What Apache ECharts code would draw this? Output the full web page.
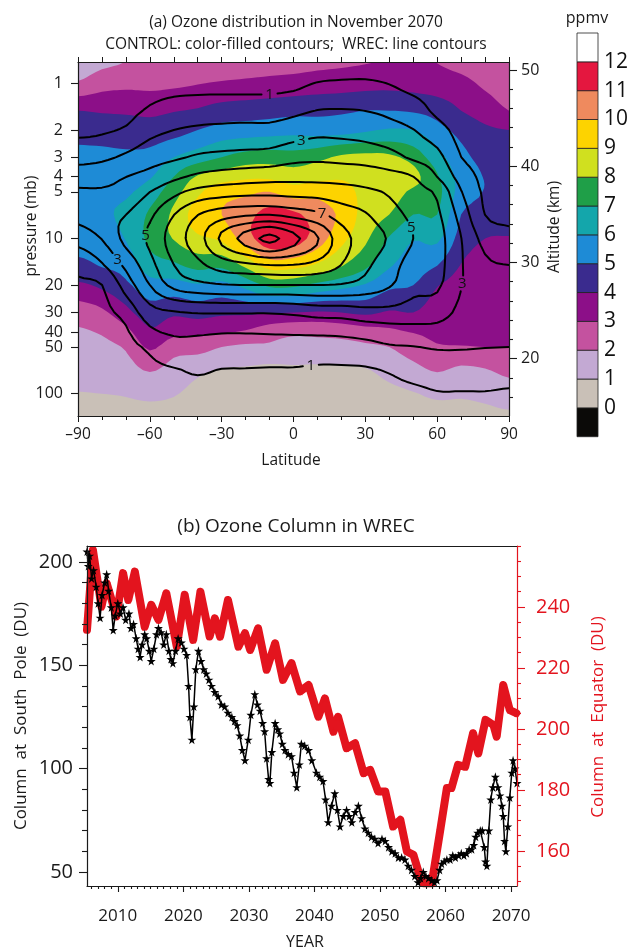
<!DOCTYPE html>
<html>
<head>
<meta charset="utf-8">
<title>Ozone distribution and ozone column</title>
<script src="https://cdn.jsdelivr.net/npm/echarts@6.0.0/dist/echarts.min.js"></script>
<style>
  html, body { margin: 0; padding: 0; background: #ffffff; }
  #chart { width: 627px; height: 950px; }
</style>
</head>
<body>
<div id="chart"></div>
<script>
// ---------- Panel (a): ozone mixing ratio (ppmv), November 2070 ----------
const latitudes = [-90, -80, -70, -60, -50, -40, -30, -20, -10, 0, 10, 20, 30, 40, 50, 60, 70, 80, 90];
const pressureLevels = [0.7, 1, 1.5, 2, 3, 4, 5, 7, 10, 15, 20, 30, 40, 50, 70, 100, 140];

// CONTROL run: one row per latitude, one value per pressure level (top to bottom)
const controlOzone = [
  [1.5, 2.1, 4.0, 4.6, 5.3, 5.6, 5.75, 5.7, 5.4, 4.75, 3.8, 2.45, 1.9, 1.7, 1.35, 0.97, 0.75],
  [1.7, 2.6, 3.9, 4.5, 5.3, 5.6, 5.85, 5.85, 5.5, 5.05, 4.2, 2.8, 2.1, 1.8, 1.5, 1.0, 0.75],
  [1.95, 2.75, 3.85, 4.45, 5.2, 5.55, 5.85, 6.25, 6.05, 5.35, 4.8, 3.7, 2.7, 2.1, 1.6, 1.05, 0.8],
  [2.3, 2.75, 3.75, 4.45, 5.3, 5.9, 6.5, 7.15, 7.25, 6.5, 5.6, 4.55, 3.85, 3.15, 2.1, 1.2, 0.75],
  [2.2, 2.8, 3.95, 4.6, 6.0, 7.0, 7.6, 8.2, 8.05, 6.8, 5.6, 4.2, 3.3, 2.4, 1.6, 1.05, 0.8],
  [2.2, 2.95, 4.1, 5.0, 6.5, 8.1, 8.8, 9.5, 8.8, 7.3, 5.9, 4.4, 3.3, 2.4, 1.2, 0.8, 0.7],
  [2.3, 3.1, 4.4, 5.4, 7.0, 8.5, 9.6, 10.0, 9.2, 7.2, 5.7, 4.2, 3.1, 2.0, 0.95, 0.7, 0.6],
  [2.4, 3.2, 4.5, 5.5, 7.4, 8.8, 9.8, 10.6, 10.5, 8.2, 6.3, 4.2, 2.9, 1.8, 0.9, 0.6, 0.5],
  [2.5, 3.3, 4.6, 5.6, 7.5, 8.8, 10.0, 11.4, 11.7, 9.4, 7.2, 4.1, 2.5, 1.8, 0.8, 0.6, 0.5],
  [2.55, 3.4, 4.7, 5.7, 7.4, 8.5, 9.5, 11.2, 11.5, 9.3, 7.2, 4.0, 2.3, 1.5, 0.9, 0.6, 0.5],
  [2.7, 3.5, 4.75, 5.6, 7.7, 8.7, 9.7, 10.5, 10.5, 8.8, 6.7, 3.9, 2.3, 1.6, 0.85, 0.6, 0.5],
  [2.8, 3.55, 4.85, 5.6, 8.2, 8.9, 9.3, 9.8, 9.3, 8.05, 6.3, 4.0, 2.4, 1.65, 0.85, 0.6, 0.5],
  [2.9, 3.65, 5.0, 5.85, 8.3, 8.7, 8.8, 8.6, 8.2, 7.2, 5.9, 4.2, 2.6, 1.8, 0.95, 0.65, 0.55],
  [3.0, 3.7, 5.0, 6.1, 8.2, 8.6, 8.5, 8.0, 6.9, 6.1, 5.2, 3.9, 2.8, 2.0, 1.3, 0.8, 0.65],
  [3.05, 3.6, 4.9, 6.0, 7.6, 8.3, 7.8, 7.0, 6.05, 5.55, 5.0, 4.0, 3.05, 2.5, 1.7, 0.95, 0.75],
  [2.95, 3.45, 4.6, 5.35, 6.4, 7.1, 7.3, 7.0, 6.2, 5.0, 4.05, 3.5, 3.2, 2.9, 2.1, 1.15, 0.8],
  [2.7, 3.25, 4.0, 4.7, 5.3, 5.6, 5.6, 5.0, 4.6, 3.95, 3.6, 3.35, 3.15, 2.95, 1.8, 1.1, 0.8],
  [2.55, 2.85, 3.5, 4.2, 4.7, 4.95, 4.95, 4.6, 4.0, 3.5, 3.2, 3.3, 3.2, 3.0, 1.95, 1.2, 0.85],
  [2.4, 2.6, 3.0, 4.0, 4.4, 4.6, 4.6, 4.35, 3.95, 3.3, 3.0, 3.25, 3.15, 3.0, 2.3, 1.4, 0.9]
];

// WREC run on the same grid
const wrecOzone = [
  [0.25, 0.4, 0.65, 0.8, 1.67, 2.5, 3.13, 3.3, 2.35, 1.25, 0.9, 0.8, 0.7, 0.65, 0.6, 0.55, 0.5],
  [0.25, 0.4, 0.7, 0.88, 1.81, 2.59, 3.15, 3.73, 3.04, 1.87, 0.99, 0.8, 0.7, 0.65, 0.6, 0.55, 0.5],
  [0.25, 0.45, 0.75, 1.12, 2.17, 2.99, 3.37, 3.99, 4.29, 3.22, 2.41, 1.33, 0.9, 0.8, 0.7, 0.6, 0.5],
  [0.3, 0.6, 1.11, 1.72, 2.59, 3.3, 3.99, 4.8, 5.19, 4.64, 3.99, 2.6, 1.79, 1.13, 0.85, 0.7, 0.55],
  [0.3, 0.65, 1.39, 2.0, 2.85, 3.77, 4.72, 5.97, 6.49, 5.97, 5.28, 2.9, 2.16, 1.62, 0.95, 0.75, 0.6],
  [0.3, 0.65, 1.52, 2.17, 3.12, 4.19, 5.32, 6.97, 7.56, 6.71, 5.68, 3.06, 2.14, 1.68, 1.09, 0.8, 0.6],
  [0.3, 0.65, 1.57, 2.23, 3.24, 4.41, 5.57, 7.54, 9.2, 7.42, 5.91, 3.07, 2.06, 1.61, 0.98, 0.75, 0.6],
  [0.3, 0.65, 1.57, 2.28, 3.31, 4.55, 5.68, 7.83, 10.37, 7.69, 5.98, 3.07, 2.06, 1.58, 0.97, 0.75, 0.6],
  [0.3, 0.65, 1.59, 2.28, 3.39, 4.65, 5.7, 7.94, 11.25, 7.89, 5.98, 3.07, 2.1, 1.55, 0.95, 0.75, 0.6],
  [0.3, 0.75, 1.76, 2.5, 3.68, 4.71, 5.65, 7.61, 10.31, 7.89, 5.98, 3.19, 2.15, 1.52, 0.95, 0.75, 0.6],
  [0.35, 1.04, 2.02, 2.73, 3.78, 4.67, 5.61, 7.21, 9.08, 7.62, 5.98, 3.42, 2.2, 1.48, 0.9, 0.7, 0.6],
  [0.35, 1.13, 2.05, 2.7, 3.7, 4.62, 5.43, 6.54, 7.41, 6.96, 5.91, 3.45, 2.26, 1.52, 0.9, 0.7, 0.6],
  [0.35, 1.15, 1.99, 2.58, 3.6, 4.51, 5.21, 6.08, 6.56, 6.18, 5.58, 3.63, 2.41, 1.65, 0.92, 0.7, 0.6],
  [0.35, 0.97, 1.78, 2.35, 3.33, 4.32, 4.88, 5.39, 5.9, 5.44, 5.09, 3.68, 2.55, 1.89, 1.08, 0.75, 0.6],
  [0.3, 0.65, 1.46, 2.03, 2.83, 4.01, 4.33, 4.75, 5.0, 4.55, 4.27, 3.58, 2.61, 1.97, 1.36, 0.8, 0.65],
  [0.25, 0.5, 0.8, 1.4, 2.32, 2.99, 3.82, 4.18, 4.4, 4.34, 4.15, 3.43, 2.63, 2.07, 1.5, 0.95, 0.7],
  [0.2, 0.3, 0.45, 0.65, 1.01, 1.6, 2.05, 2.61, 3.02, 3.08, 3.03, 2.75, 2.37, 2.06, 1.51, 0.95, 0.7],
  [0.15, 0.25, 0.35, 0.45, 0.6, 0.75, 0.85, 0.99, 1.67, 2.2, 2.47, 2.35, 2.17, 2.02, 1.51, 0.95, 0.7],
  [0.15, 0.2, 0.3, 0.4, 0.5, 0.65, 0.75, 0.85, 1.24, 2.02, 2.35, 2.44, 2.19, 2.0, 1.43, 0.9, 0.7]
];

const wrecLevels = [1, 2, 3, 4, 5, 6, 7, 8, 9, 10, 11];
// colour bands from -1 to 13 ppmv, one colour per 1 ppmv band
const bandLowerEdges = [-1, 0, 1, 2, 3, 4, 5, 6, 7, 8, 9, 10, 11, 12];
const bandColors = ['#0b0a08', '#c9c0b7', '#c3a9d3', '#c4529f', '#8c0f88', '#3a2b8e', '#1e8bd6',
  '#14a6ab', '#1f9f48', '#d0e01f', '#fdd300', '#ef8a5e', '#e4173f', '#ffffff'];
const colorbarLabels = [0, 1, 2, 3, 4, 5, 6, 7, 8, 9, 10, 11, 12];
const pressureTicks = [1, 2, 3, 4, 5, 10, 20, 30, 40, 50, 100];
const altitudeTicks = [20, 30, 40, 50];
// where each contour label sits: [level, latitude, pressure]
const contourLabelSpots = [[1, -10, 1.19], [3, 3, 2.25], [5, -63, 9.5], [5, 50, 8.4], [7, 12, 6.85],
  [3, -74, 13.8], [3, 70, 19.4], [1, 7, 61.5]];

// ---------- Panel (b): ozone column (DU) ----------
const southPoleYears = [2005.3,2005.5,2005.7,2006.0,2006.3,2006.7,2007.0,2007.3,2007.6,2008.0,
  2008.3,2008.6,2009.0,2009.3,2009.6,2010.0,2010.4,2010.8,2011.2,2011.7,
  2012.0,2012.4,2012.8,2013.1,2013.4,2013.7,2014.1,2014.4,2014.8,2015.1,
  2015.5,2015.9,2016.2,2016.6,2017.0,2017.4,2017.8,2018.1,2018.4,2018.8,
  2019.2,2019.7,2020.1,2020.5,2020.8,2021.0,2021.3,2021.6,2021.9,2022.3,
  2022.7,2023.1,2023.5,2023.9,2024.3,2024.8,2025.3,2025.8,2026.3,2026.8,
  2027.4,2027.8,2028.2,2028.6,2029.0,2029.4,2029.9,2030.3,2030.9,2031.3,
  2031.7,2032.1,2032.4,2032.7,2033.0,2033.2,2033.5,2034.0,2034.4,2034.7,
  2035.1,2035.5,2036.0,2036.5,2036.9,2037.3,2037.7,2038.0,2038.5,2039.1,
  2039.6,2040.3,2040.8,2041.3,2041.7,2042.1,2042.6,2043.1,2043.5,2043.9,
  2044.4,2044.9,2045.3,2045.7,2046.2,2046.7,2047.2,2047.7,2048.2,2048.7,
  2049.2,2049.7,2050.3,2050.8,2051.3,2051.8,2052.3,2052.8,2053.3,2053.8,
  2054.3,2054.8,2055.3,2055.8,2056.2,2056.6,2057.0,2057.4,2057.9,2058.3,
  2058.7,2059.1,2059.4,2059.8,2060.2,2060.7,2061.1,2061.5,2062.0,2062.4,
  2062.8,2063.2,2063.6,2064.0,2064.3,2064.6,2064.9,2065.3,2065.6,2065.9,
  2066.1,2066.3,2066.6,2066.9,2067.2,2067.6,2068.0,2068.3,2068.6,2068.8,
  2069.0,2069.2,2069.5,2069.8,2070.1,2070.3,2070.6,2070.9];
const southPoleDU = [205,198,203,192,196,188,180,173,184,190,
  194,186,178,167,174,180,175,178,172,175,
  168,170,163,158,154,160,165,163,157,152,
  158,165,168,166,160,165,157,153,151,157,
  163,161,158,155,140,125,114,130,148,157,
  152,148,146,143,140,137,135,131,130,127,
  125,123,121,116,109,104,114,126,136,131,
  128,122,118,105,95,93,108,122,119,117,
  112,109,107,106,98,91,102,112,111,109,
  104,98,96,94,85,74,82,88,80,72,
  77,80,77,74,79,82,76,71,69,67,
  66,64,66,65,62,60,59,57,57,56,
  53,51,48,45,47,50,48,47,46,45,
  46,51,54,55,56,56,58,57,58,59,
  58,59,61,61,63,67,69,70,70,62,
  55,53,70,85,91,96,91,87,82,77,
  65,60,72,86,98,104,100,93];
const equatorYears = [2005.3,2006.2,2007.5,2008.3,2009.8,2010.8,2011.6,2012.6,2014.1,2015.1,
  2016.2,2017.4,2019.0,2020.2,2021.5,2022.6,2024.0,2024.8,2025.6,2026.8,
  2028.4,2029.4,2030.2,2031.4,2032.7,2034.0,2035.2,2036.5,2037.8,2039.1,
  2040.6,2041.6,2042.9,2043.6,2044.9,2046.2,2047.5,2048.5,2049.7,2050.8,
  2052.0,2053.1,2054.1,2055.1,2056.1,2056.6,2057.9,2059.2,2060.2,2060.9,
  2061.9,2063.0,2064.2,2065.0,2066.1,2067.3,2067.8,2068.8,2069.8,2070.8];
const equatorDU = [232.5,258.7,240.1,247.8,236.9,251.1,242.3,251.6,233.5,240.7,
  235.8,244.5,227,244,229.2,245,230.3,236.3,230.3,242.3,
  227,231.4,225.9,233,219.4,228.1,216.1,221.6,212.3,214.4,
  204,210,199.1,204,193.7,195.3,185.5,186.6,179.5,179.5,
  168,170.2,159.8,158.7,151.6,149.4,149.4,166.9,180.6,180.6,
  188.2,187.6,198.6,192,203,201.3,197.5,214.4,206.2,205.2];
const yearTicks = [2010, 2020, 2030, 2040, 2050, 2060, 2070];
const southPoleTicks = [50, 100, 150, 200];
const equatorTicks = [160, 180, 200, 220, 240];

// ---------- helpers ----------
const FONT = '"Open Sans", "Noto Sans", sans-serif';
const INK = '#1a1a1a';
const RED = '#e3141e';
const STAR = 'path://M50,0 L61,35 L98,35 L68,57 L79,91 L50,70 L21,91 L32,57 L2,35 L39,35 Z';
const SUBDIV = 4;   // bicubic sub-cells per grid cell when drawing the surface
const lg = Math.log10;
const range = (a, b, step) => { const out = []; for (let v = a; v <= b + 1e-9; v += step) out.push(+v.toFixed(4)); return out; };
const withoutMajors = (list, majors) => list.filter(v => majors.indexOf(v) < 0);

// Catmull-Rom surface through the grid nodes, sampled SUBDIV times per cell for smooth contours
const catmull = (p0, p1, p2, p3, t) =>
  0.5 * (2 * p1 + (-p0 + p2) * t + (2 * p0 - 5 * p1 + 4 * p2 - p3) * t * t + (-p0 + 3 * p1 - 3 * p2 + p3) * t * t * t);
const clampAt = (arr, k) => arr[Math.max(0, Math.min(arr.length - 1, k))];
function sampleAxis(values) {
  const out = [];
  for (let k = 0; k < values.length - 1; k++) for (let s = 0; s < SUBDIV; s++) out.push(values[k] + (values[k + 1] - values[k]) * s / SUBDIV);
  out.push(values[values.length - 1]);
  return out;
}
function sampleField(field) {
  const alongP = field.map(row => {
    const out = [];
    for (let j = 0; j < row.length - 1; j++) for (let s = 0; s < SUBDIV; s++)
      out.push(catmull(clampAt(row, j - 1), row[j], row[j + 1], clampAt(row, j + 2), s / SUBDIV));
    out.push(row[row.length - 1]);
    return out;
  });
  const out = [];
  for (let i = 0; i < alongP.length - 1; i++) for (let s = 0; s < SUBDIV; s++)
    out.push(alongP[i].map((v, k) => catmull(clampAt(alongP, i - 1)[k], v, alongP[i + 1][k], clampAt(alongP, i + 2)[k], s / SUBDIV)));
  out.push(alongP[alongP.length - 1].slice());
  return out;
}
const sampleLat = sampleAxis(latitudes);
const sampleLogP = sampleAxis(pressureLevels.map(lg));
const controlSurface = sampleField(controlOzone);
const wrecSurface = sampleField(wrecOzone);

function nodePixels(api) {
  return sampleLat.map(lat => sampleLogP.map(v => api.coord([lat, v])));
}

// point where `level` crosses the edge between two nodes (ordered so shared edges match exactly)
function edgeCrossing(px, field, a, b, level) {
  if (a[0] > b[0] || (a[0] === b[0] && a[1] > b[1])) { const t = a; a = b; b = t; }
  const va = field[a[0]][a[1]], vb = field[b[0]][b[1]];
  const s = (level - va) / (vb - va);
  const pa = px[a[0]][a[1]], pb = px[b[0]][b[1]];
  return [pa[0] + s * (pb[0] - pa[0]), pa[1] + s * (pb[1] - pa[1])];
}

// filled bands: for every band edge, the part of each cell at or above it, merged into one path per colour
function renderFilledBands(params, api) {
  const px = nodePixels(api);
  const field = controlSurface;
  const paths = bandLowerEdges.map(() => []);
  for (let i = 0; i < field.length - 1; i++) {
    for (let j = 0; j < field[0].length - 1; j++) {
      const corners = [[i, j], [i + 1, j], [i + 1, j + 1], [i, j + 1]];
      const vals = corners.map(c => field[c[0]][c[1]]);
      bandLowerEdges.forEach((t, b) => {
        const poly = [];
        for (let k = 0; k < 4; k++) {
          const c1 = corners[k], c2 = corners[(k + 1) % 4];
          const in1 = vals[k] >= t, in2 = vals[(k + 1) % 4] >= t;
          if (in1) poly.push(px[c1[0]][c1[1]]);
          if (in1 !== in2) poly.push(edgeCrossing(px, field, c1, c2, t));
        }
        if (poly.length >= 3) {
          paths[b].push('M' + poly.map(p => p[0].toFixed(2) + ' ' + p[1].toFixed(2)).join('L') + 'Z');
        }
      });
    }
  }
  const children = [];
  paths.forEach((d, b) => {
    if (d.length) children.push({ type: 'path', shape: { pathData: d.join('') }, style: { fill: bandColors[b] } });
  });
  return { type: 'group', children };
}

// marching squares for one level, chained into polylines
function contourLines(px, field, level) {
  const segs = [];
  for (let i = 0; i < field.length - 1; i++) {
    for (let j = 0; j < field[0].length - 1; j++) {
      const corners = [[i, j], [i + 1, j], [i + 1, j + 1], [i, j + 1]];
      const vals = corners.map(c => field[c[0]][c[1]]);
      const cross = [];
      for (let k = 0; k < 4; k++) {
        const k2 = (k + 1) % 4;
        if ((vals[k] >= level) !== (vals[k2] >= level)) cross.push(edgeCrossing(px, field, corners[k], corners[k2], level));
      }
      if (cross.length === 2) segs.push([cross[0], cross[1]]);
      else if (cross.length === 4) {
        const centre = (vals[0] + vals[1] + vals[2] + vals[3]) / 4;
        if ((centre >= level) === (vals[0] >= level)) { segs.push([cross[0], cross[1]]); segs.push([cross[2], cross[3]]); }
        else { segs.push([cross[3], cross[0]]); segs.push([cross[1], cross[2]]); }
      }
    }
  }
  const key = p => p[0].toFixed(4) + ',' + p[1].toFixed(4);
  const ends = new Map();
  segs.forEach((s, idx) => [0, 1].forEach(e => {
    const k = key(s[e]);
    if (!ends.has(k)) ends.set(k, []);
    ends.get(k).push([idx, e]);
  }));
  const used = segs.map(() => false);
  const lines = [];
  for (let n = 0; n < segs.length; n++) {
    if (used[n]) continue;
    used[n] = true;
    const line = [segs[n][0], segs[n][1]];
    [1, -1].forEach(dir => {
      let grown = true;
      while (grown) {
        grown = false;
        const tip = dir === 1 ? line[line.length - 1] : line[0];
        for (const [idx, e] of (ends.get(key(tip)) || [])) {
          if (used[idx]) continue;
          used[idx] = true;
          if (dir === 1) line.push(segs[idx][1 - e]); else line.unshift(segs[idx][1 - e]);
          grown = true;
          break;
        }
      }
    });
    lines.push(line);
  }
  return lines;
}

function cumulative(pts) {
  const c = [0];
  for (let k = 1; k < pts.length; k++) c.push(c[k - 1] + Math.hypot(pts[k][0] - pts[k - 1][0], pts[k][1] - pts[k - 1][1]));
  return c;
}
function pointAt(pts, cum, s) {
  for (let k = 1; k < pts.length; k++) {
    if (cum[k] >= s) {
      const f = (s - cum[k - 1]) / Math.max(cum[k] - cum[k - 1], 1e-9);
      return [pts[k - 1][0] + f * (pts[k][0] - pts[k - 1][0]), pts[k - 1][1] + f * (pts[k][1] - pts[k - 1][1])];
    }
  }
  return pts[pts.length - 1];
}

function renderWrecContours(params, api) {
  const px = nodePixels(api);
  const children = [];
  const gap = 8;
  const linesByLevel = {};
  wrecLevels.forEach(level => {
    linesByLevel[level] = contourLines(px, wrecSurface, level).map(pts => ({ pts, cum: cumulative(pts), cuts: [] }));
  });
  const labels = [];
  contourLabelSpots.forEach(([level, lat, p]) => {
    const target = api.coord([lat, lg(p)]);
    let best = null;
    (linesByLevel[level] || []).forEach(line => {
      for (let k = 1; k < line.pts.length; k++) {
        const a = line.pts[k - 1], b = line.pts[k];
        const dx = b[0] - a[0], dy = b[1] - a[1];
        const len2 = dx * dx + dy * dy || 1e-9;
        const f = Math.max(0, Math.min(1, ((target[0] - a[0]) * dx + (target[1] - a[1]) * dy) / len2));
        const q = [a[0] + f * dx, a[1] + f * dy];
        const d = Math.hypot(q[0] - target[0], q[1] - target[1]);
        if (!best || d < best.d) best = { d, line, s: line.cum[k - 1] + f * Math.sqrt(len2), q };
      }
    });
    if (best) {
      best.line.cuts.push([best.s - gap, best.s + gap]);
      labels.push({ text: String(level), at: best.q });
    }
  });
  Object.keys(linesByLevel).forEach(level => {
    linesByLevel[level].forEach(line => {
      const total = line.cum[line.cum.length - 1];
      const cuts = line.cuts.slice().sort((a, b) => a[0] - b[0]);
      const keep = [];
      let start = 0;
      cuts.forEach(([c0, c1]) => { if (c0 > start) keep.push([start, c0]); start = Math.max(start, c1); });
      if (start < total) keep.push([start, total]);
      keep.forEach(([s0, s1]) => {
        const pts = [pointAt(line.pts, line.cum, s0)];
        for (let k = 0; k < line.pts.length; k++) if (line.cum[k] > s0 && line.cum[k] < s1) pts.push(line.pts[k]);
        pts.push(pointAt(line.pts, line.cum, s1));
        children.push({ type: 'polyline', shape: { points: pts },
          style: { stroke: '#000', lineWidth: 2, fill: null, lineJoin: 'round', lineCap: 'round' } });
      });
    });
  });
  labels.forEach(l => children.push({ type: 'text', x: l.at[0], y: l.at[1],
    style: { text: l.text, fill: '#111', fontSize: 15, fontFamily: FONT, align: 'center', verticalAlign: 'middle',
      textAlign: 'center', textVerticalAlign: 'middle' } }));
  return { type: 'group', children };
}

function renderColorbar(params, api) {
  const b = api.value(2);
  const lo = bandLowerEdges[b];
  const p0 = api.coord([0, lo + 1]);
  const p1 = api.coord([1, lo]);
  return { type: 'rect', shape: { x: p0[0], y: p0[1], width: p1[0] - p0[0], height: p1[1] - p0[1] },
    style: { fill: bandColors[b], stroke: '#222', lineWidth: 0.8 } };
}

const labelStyle = (size, color) => ({ fontSize: size, color: color || INK, fontFamily: FONT });
const lineStyle = color => ({ show: true, onZero: false, lineStyle: { color: color || INK, width: 1.2 } });
const tickStyle = (values, length, color) => ({ show: true, inside: false, length, customValues: values,
  lineStyle: { color: color || INK, width: 1.1 } });
const noSplit = { show: false };

const option = {
  animation: false,
  backgroundColor: '#ffffff',
  grid: [
    { left: 78, top: 62, width: 431, height: 354, outerBoundsMode: 'none' },
    { left: 577, top: 33, width: 21, height: 403.7, outerBoundsMode: 'none' },
    { left: 87, top: 546, width: 430, height: 340, outerBoundsMode: 'none' }
  ],
  xAxis: [
    { type: 'value', gridIndex: 0, position: 'bottom', min: -90, max: 90, interval: 30, z: 10,
      axisLine: lineStyle(), axisTick: { show: true, length: 6, lineStyle: { color: INK } },
      minorTick: { show: true, splitNumber: 3, length: 4, lineStyle: { color: INK } },
      axisLabel: Object.assign(labelStyle(15.5), { margin: 11, formatter: v => (v < 0 ? '\u2013' + (-v) : String(v)) }),
      splitLine: noSplit, minorSplitLine: noSplit },
    { type: 'value', gridIndex: 0, position: 'top', min: -90, max: 90, interval: 10, z: 10,
      axisLine: lineStyle(), axisTick: { show: true, length: 5, lineStyle: { color: INK } },
      axisLabel: { show: false }, splitLine: noSplit },
    { type: 'value', gridIndex: 1, min: 0, max: 1, show: false },
    { type: 'value', gridIndex: 2, position: 'bottom', min: 2005.3, max: 2070.9, z: 10,
      axisLine: lineStyle(), axisTick: tickStyle(yearTicks, 6),
      axisLabel: Object.assign(labelStyle(17), { margin: 22, customValues: yearTicks, formatter: v => String(v) }),
      splitLine: noSplit },
    { type: 'value', gridIndex: 2, position: 'bottom', min: 2005.3, max: 2070.9, z: 10,
      axisLine: { show: false, onZero: false }, axisTick: tickStyle(withoutMajors(range(2006, 2070, 1), yearTicks), 3),
      axisLabel: { show: false }, splitLine: noSplit },
    { type: 'value', gridIndex: 2, position: 'top', min: 2005.3, max: 2070.9, z: 10,
      axisLine: lineStyle(), axisTick: { show: false }, axisLabel: { show: false }, splitLine: noSplit }
  ],
  yAxis: [
    { type: 'value', gridIndex: 0, position: 'left', inverse: true, min: lg(0.729), max: lg(139.2), z: 10,
      axisLine: lineStyle(), axisTick: tickStyle(pressureTicks.map(lg), 7),
      axisLabel: Object.assign(labelStyle(16), { margin: 15, customValues: pressureTicks.map(lg),
        formatter: v => String(Math.round(Math.pow(10, v))) }), splitLine: noSplit },
    { type: 'value', gridIndex: 0, position: 'right', min: 14.05, max: 50.83, z: 10,
      axisLine: lineStyle(), axisTick: tickStyle(altitudeTicks, 8),
      axisLabel: Object.assign(labelStyle(16), { margin: 12, customValues: altitudeTicks }), splitLine: noSplit },
    { type: 'value', gridIndex: 0, position: 'right', min: 14.05, max: 50.83, z: 10,
      axisLine: { show: false, onZero: false }, axisTick: tickStyle(withoutMajors(range(16, 50, 2), altitudeTicks), 4),
      axisLabel: { show: false }, splitLine: noSplit },
    { type: 'value', gridIndex: 1, position: 'right', min: -1, max: 13,
      axisLine: { show: false, onZero: false }, axisTick: { show: false },
      axisLabel: Object.assign(labelStyle(21, '#111'), { margin: 6, customValues: colorbarLabels }), splitLine: noSplit },
    { type: 'value', gridIndex: 2, position: 'left', min: 43.2, max: 207.7, z: 10,
      axisLine: lineStyle(), axisTick: tickStyle(southPoleTicks, 8),
      axisLabel: Object.assign(labelStyle(20), { margin: 14, customValues: southPoleTicks }), splitLine: noSplit },
    { type: 'value', gridIndex: 2, position: 'left', min: 43.2, max: 207.7, z: 10,
      axisLine: { show: false, onZero: false }, axisTick: tickStyle(withoutMajors(range(50, 200, 10), southPoleTicks), 5),
      axisLabel: { show: false }, splitLine: noSplit },
    { type: 'value', gridIndex: 2, position: 'right', min: 148.5, max: 260, z: 10,
      axisLine: lineStyle(RED), axisTick: tickStyle(equatorTicks, 8, RED),
      axisLabel: Object.assign(labelStyle(20, RED), { margin: 19, customValues: equatorTicks }), splitLine: noSplit },
    { type: 'value', gridIndex: 2, position: 'right', min: 148.5, max: 260, z: 10,
      axisLine: { show: false, onZero: false }, axisTick: tickStyle(withoutMajors(range(150, 260, 5), equatorTicks), 4, RED),
      axisLabel: { show: false }, splitLine: noSplit }
  ],
  series: [
    { type: 'custom', name: 'CONTROL', xAxisIndex: 0, yAxisIndex: 0, clip: true, silent: true, z: 1,
      data: [[0, 0]], encode: { x: 0, y: 1 }, renderItem: renderFilledBands },
    { type: 'custom', name: 'WREC', xAxisIndex: 0, yAxisIndex: 0, clip: true, silent: true, z: 3,
      data: [[0, 0]], encode: { x: 0, y: 1 }, renderItem: renderWrecContours },
    { type: 'custom', name: 'colour scale', xAxisIndex: 2, yAxisIndex: 3, silent: true,
      data: bandLowerEdges.map((lo, b) => [0.5, lo + 0.5, b]), encode: { x: 0, y: 1 }, renderItem: renderColorbar },
    { type: 'line', name: 'Equator', xAxisIndex: 3, yAxisIndex: 6, clip: true, z: 4,
      data: equatorYears.map((y, k) => [y, equatorDU[k]]),
      lineStyle: { color: RED, width: 8, join: 'round', cap: 'round' },
      symbol: STAR, symbolSize: 8, itemStyle: { color: RED } },
    { type: 'line', name: 'South Pole', xAxisIndex: 3, yAxisIndex: 4, clip: true, z: 5,
      data: southPoleYears.map((y, k) => [y, southPoleDU[k]]),
      lineStyle: { color: '#000', width: 1.5 },
      symbol: STAR, symbolSize: 9, itemStyle: { color: '#000' } }
  ],
  graphic: [
    { type: 'text', x: 296, y: 23, style: { text: '(a) Ozone distribution in November 2070', fill: INK, font: '15.5px ' + FONT, textAlign: 'center', textVerticalAlign: 'middle', align: 'center', verticalAlign: 'middle' } },
    { type: 'text', x: 296, y: 45, style: { text: 'CONTROL: color-filled contours;  WREC: line contours', fill: INK, font: '15.5px ' + FONT, textAlign: 'center', textVerticalAlign: 'middle', align: 'center', verticalAlign: 'middle' } },
    { type: 'text', x: 32, y: 226, rotation: Math.PI / 2, style: { text: 'pressure (mb)', fill: INK, font: '15.5px ' + FONT, textAlign: 'center', textVerticalAlign: 'middle', align: 'center', verticalAlign: 'middle' } },
    { type: 'text', x: 555, y: 227, rotation: Math.PI / 2, style: { text: 'Altitude (km)', fill: INK, font: '15.5px ' + FONT, textAlign: 'center', textVerticalAlign: 'middle', align: 'center', verticalAlign: 'middle' } },
    { type: 'text', x: 291, y: 461, style: { text: 'Latitude', fill: INK, font: '15.5px ' + FONT, textAlign: 'center', textVerticalAlign: 'middle', align: 'center', verticalAlign: 'middle' } },
    { type: 'text', x: 587, y: 18, style: { text: 'ppmv', fill: INK, font: '16px ' + FONT, textAlign: 'center', textVerticalAlign: 'middle', align: 'center', verticalAlign: 'middle' } },
    { type: 'text', x: 296, y: 527, style: { text: '(b) Ozone Column in WREC', fill: INK, font: '19px ' + FONT, textAlign: 'center', textVerticalAlign: 'middle', align: 'center', verticalAlign: 'middle' } },
    { type: 'text', x: 21, y: 716, rotation: Math.PI / 2, style: { text: 'Column  at  South  Pole  (DU)', fill: INK, font: '17px ' + FONT, textAlign: 'center', textVerticalAlign: 'middle', align: 'center', verticalAlign: 'middle' } },
    { type: 'text', x: 598, y: 717, rotation: Math.PI / 2, style: { text: 'Column  at  Equator  (DU)', fill: RED, font: '17px ' + FONT, textAlign: 'center', textVerticalAlign: 'middle', align: 'center', verticalAlign: 'middle' } },
    { type: 'text', x: 305, y: 942, style: { text: 'YEAR', fill: INK, font: '16px ' + FONT, textAlign: 'center', textVerticalAlign: 'middle', align: 'center', verticalAlign: 'middle' } }
  ]
};

const chart = echarts.init(document.getElementById('chart'), null, { renderer: 'canvas', width: 627, height: 950 });
chart.setOption(option);
</script>
</body>
</html>
